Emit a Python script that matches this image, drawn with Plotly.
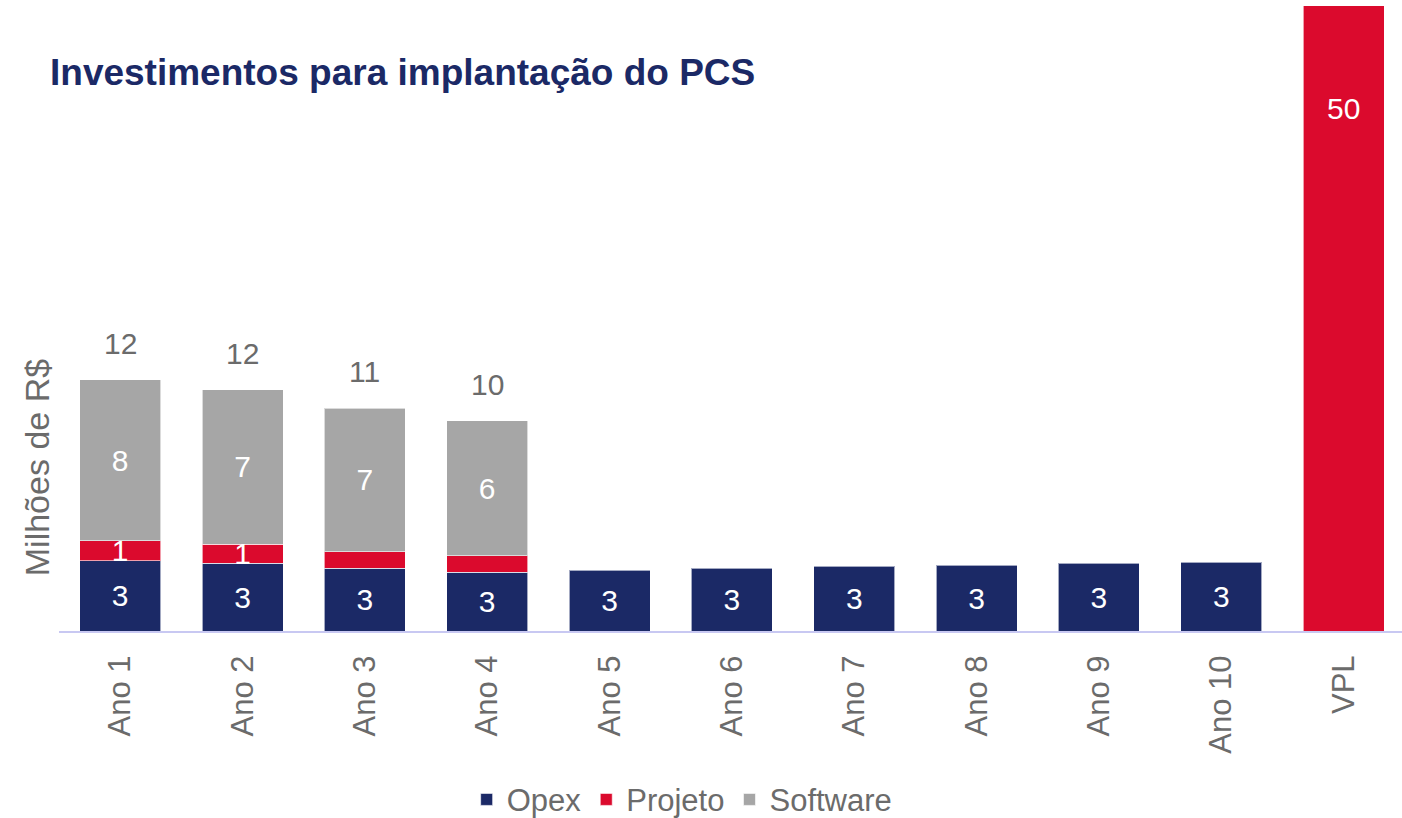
import plotly.graph_objects as go

categories = ["Ano 1", "Ano 2", "Ano 3", "Ano 4", "Ano 5", "Ano 6", "Ano 7", "Ano 8", "Ano 9", "Ano 10", "VPL"]
opex = [3.35, 3.25, 3.0, 2.8, 2.9, 3.0, 3.1, 3.15, 3.25, 3.3, None]
projeto = [0.96, 0.9, 0.8, 0.8, None, None, None, None, None, None, 50]
software = [7.7, 7.4, 6.85, 6.45, None, None, None, None, None, None, None]
projeto_labels = ["1", "1", "", "", "", "", "", "", "", "", ""]
totals = [12.0, 11.55, 10.65, 10.05]
total_labels = ["12", "12", "11", "10"]
vpl_label = "50"

NAVY = "#1b2966"
RED = "#db0a2d"
GRAY = "#a6a6a6"
TXT = "#6b6b6b"
FONT = "Liberation Sans, Arial, sans-serif"

fig = go.Figure()
fig.add_trace(go.Bar(
    name="Opex", x=categories, y=opex, marker=dict(color=NAVY, line=dict(color="rgba(255,255,255,0.6)", width=1)),
    texttemplate="%{y:.0f}", textposition="inside", insidetextanchor="middle", textangle=0,
    textfont=dict(color="white", size=30, family=FONT), hoverinfo="skip"))
fig.add_trace(go.Bar(
    name="Projeto", x=categories, y=projeto, marker=dict(color=RED, line=dict(color="rgba(255,255,255,0.6)", width=1)),
    text=projeto_labels, textposition="inside", insidetextanchor="middle", textangle=0,
    textfont=dict(color="white", size=30, family=FONT), hoverinfo="skip"))
fig.add_trace(go.Bar(
    name="Software", x=categories, y=software, marker=dict(color=GRAY, line=dict(color="rgba(255,255,255,0.6)", width=1)),
    texttemplate="%{y:.0f}", textposition="inside", insidetextanchor="middle", textangle=0,
    textfont=dict(color="white", size=30, family=FONT), hoverinfo="skip"))

annotations = []
for c, t, lab in zip(categories, totals, total_labels):
    annotations.append(dict(x=c, y=t, text=lab, showarrow=False, yanchor="bottom", yshift=18,
                            font=dict(size=30, color=TXT, family=FONT)))
annotations.append(dict(x=categories[-1], y=25, text=vpl_label, showarrow=False, yanchor="middle",
                        font=dict(size=30, color="white", family=FONT)))
annotations.append(dict(xref="paper", yref="paper", x=-0.0164, y=0.262, text="Milhões de R$",
                        textangle=-90, showarrow=False, xanchor="center", yanchor="middle",
                        font=dict(size=34, color=TXT, family=FONT)))

fig.update_layout(
    barmode="stack",
    bargap=0.338,
    width=1402, height=818,
    margin=dict(l=59, r=0, t=6, b=187, autoexpand=False),
    paper_bgcolor="white", plot_bgcolor="white",
    title=dict(text="<b>Investimentos para implantação do PCS</b>", x=50/1402, xanchor="left",
               y=1-72/818, yanchor="middle", font=dict(size=37, color=NAVY, family=FONT)),
    uniformtext=dict(mode="show", minsize=30),
    legend=dict(orientation="h", x=0.464, xanchor="center", y=-0.27, yanchor="middle",
                font=dict(size=31, color=TXT, family=FONT), traceorder="normal", itemwidth=30),
    annotations=annotations,
    showlegend=True,
)
fig.update_xaxes(type="category", range=[-0.5, 10.477], showline=True, linecolor="#c8c8f2", linewidth=2,
                 tickangle=-90, ticks="outside", ticklen=10, tickcolor="rgba(0,0,0,0)", automargin=False,
                 tickfont=dict(size=31, color=TXT, family=FONT), showgrid=False)
fig.update_yaxes(range=[0, 29.9], visible=False, showgrid=False, zeroline=False, automargin=False)

fig.write_html("out.html")
